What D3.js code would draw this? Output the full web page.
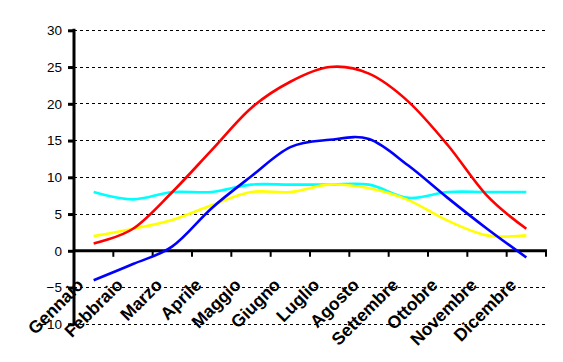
<!DOCTYPE html>
<html>
<head>
<meta charset="utf-8">
<script src="https://cdn.jsdelivr.net/npm/d3@7"></script>
<style>
  body { margin: 0; background: #fff; }
  svg { display: block; }
</style>
</head>
<body>
<div id="chart"></div>
<script>
// months + the four series
var mesi = ["Gennaio", "Febbraio", "Marzo", "Aprile", "Maggio", "Giugno",
            "Luglio", "Agosto", "Settembre", "Ottobre", "Novembre", "Dicembre"];
var rosso  = [1, 3, 8, 13.7, 19.4, 23, 25, 24.1, 20.3, 14.4, 7.5, 3];
var blu    = [-4, -1.8, 0.6, 5.8, 10.1, 14.1, 15.1, 15.2, 11.6, 7.2, 3, -0.9];
var giallo = [2, 3, 4.2, 6.2, 8, 8, 9, 8.5, 6.9, 4.1, 2.1, 2.1];
var ciano  = [8, 7, 8, 8, 9, 9, 9, 9, 7.2, 8, 8, 8];
var yTicks = [-10, -5, 0, 5, 10, 15, 20, 25, 30];

var width = 563, height = 362;

var svg = d3.select("#chart").append("svg")
    .attr("width", width)
    .attr("height", height);

var x = d3.scaleBand().domain(mesi).range([74, 546]).padding(0);
var y = d3.scaleLinear().domain([-10, 30]).range([324.3, 30.3]);

// dashed gridlines
svg.append("g").selectAll("line")
    .data(yTicks.filter(function(d) { return d !== 0; }))
    .enter().append("line")
    .attr("x1", 74).attr("x2", 546)
    .attr("y1", function(d) { return y(d); })
    .attr("y2", function(d) { return y(d); })
    .attr("stroke", "#000")
    .attr("stroke-width", 1)
    .attr("stroke-dasharray", "3,3")
    .attr("shape-rendering", "crispEdges");

// y axis
var yAxis = d3.axisLeft(y).tickValues(yTicks).tickSize(6).tickPadding(6);
var gy = svg.append("g").attr("transform", "translate(74,0)").call(yAxis);
gy.select(".domain").remove();
gy.selectAll(".tick line").attr("stroke-width", 3);
gy.selectAll(".tick text")
    .attr("font-family", "'Liberation Sans', Arial, sans-serif")
    .attr("font-size", "13.5px")
    .attr("fill", "#000");
svg.append("line")
    .attr("x1", 74).attr("x2", 74)
    .attr("y1", y(30) - 1.5).attr("y2", y(-10) + 1.5)
    .attr("stroke", "#000").attr("stroke-width", 3);

// x axis at zero with ticks between months
svg.append("g").selectAll("line")
    .data(mesi.concat(["_end"]))
    .enter().append("line")
    .attr("x1", function(d, i) { return i < mesi.length ? x(d) : x.range()[1]; })
    .attr("x2", function(d, i) { return i < mesi.length ? x(d) : x.range()[1]; })
    .attr("y1", y(0)).attr("y2", y(0) + 6)
    .attr("stroke", "#000").attr("stroke-width", 2);
svg.append("line")
    .attr("x1", 74).attr("x2", 547)
    .attr("y1", y(0)).attr("y2", y(0))
    .attr("stroke", "#000").attr("stroke-width", 3);

// month labels, rotated
svg.append("g").selectAll("text")
    .data(mesi)
    .enter().append("text")
    .attr("transform", function(d) {
        return "translate(" + (x(d) + x.bandwidth() / 2 - 9) + ",286) rotate(-45)";
    })
    .attr("text-anchor", "end")
    .attr("font-family", "'Liberation Sans', Arial, sans-serif")
    .attr("font-weight", "bold")
    .attr("font-size", "17.5px")
    .attr("fill", "#000")
    .text(function(d) { return d; });

// lines (excel-ish smoothing)
var line = d3.line()
    .x(function(d, i) { return x(mesi[i]) + x.bandwidth() / 2; })
    .y(function(d) { return y(d); })
    .curve(d3.curveCardinal.tension(0));

var serie = [
    { valori: ciano, colore: "#00ffff" },
    { valori: giallo, colore: "#ffff00" },
    { valori: blu, colore: "#0000ff" },
    { valori: rosso, colore: "#ff0000" }
];

svg.append("g").selectAll("path")
    .data(serie)
    .enter().append("path")
    .attr("d", function(d) { return line(d.valori); })
    .attr("fill", "none")
    .attr("stroke", function(d) { return d.colore; })
    .attr("stroke-width", 2.6);
</script>
</body>
</html>
